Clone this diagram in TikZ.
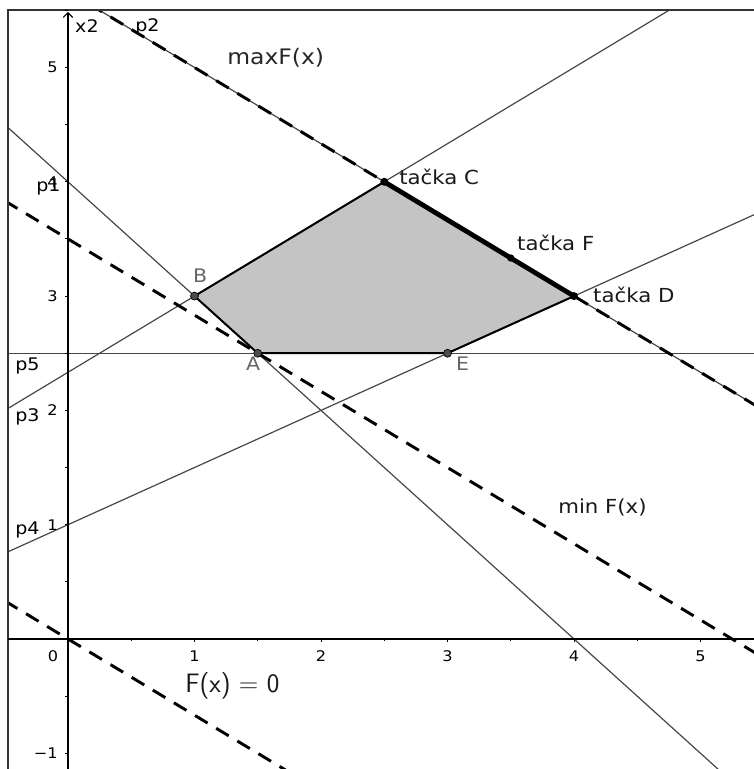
\documentclass[tikz,border=0pt]{standalone}
\usepackage{fontspec}
\setmainfont{DejaVu Sans}
\usetikzlibrary{arrows.meta}
\newcommand{\hstr}[1]{\scalebox{1.1}[1]{#1}}
\begin{document}
\begin{tikzpicture}[x=94.875pt,y=85.725pt,
  thinline/.style={draw=black!72, line width=0.9pt},
  objline/.style={draw=black, line width=2.2pt, dash pattern=on 11pt off 7.5pt},
  edgeln/.style={draw=black, line width=1.5pt},
  ptA/.style={circle, fill=black!70, draw=black, line width=0.5pt, inner sep=0pt, minimum size=6pt},
  ptC/.style={circle, fill=black, inner sep=0pt, minimum size=6pt},
  plabel/.style={font=\fontsize{13}{15}\selectfont, inner sep=0pt, anchor=base west},
  tlabel/.style={font=\fontsize{14.5}{17}\selectfont, inner sep=0pt, anchor=base west, text=black!90},
  vlabel/.style={font=\fontsize{14}{17}\selectfont, inner sep=0pt, anchor=base west, text=black!60},
  ticklab/.style={font=\fontsize{11}{13}\selectfont, inner sep=0pt},
  tickln/.style={draw=black, line width=0.7pt},
]
\useasboundingbox (-0.5375,-1.1374) rectangle (5.4229,5.5906);
\coordinate (A) at (1.5,2.5);
\coordinate (B) at (1,3);
\coordinate (C) at (2.5,4);
\coordinate (D) at (4,3);
\coordinate (E) at (3,2.5);
\coordinate (F) at (3.5,3.3333);
\begin{scope}
\clip (-0.4743,-1.1374) rectangle (5.4229,5.5031);
\fill[black!23] (A)--(B)--(C)--(D)--(E)--cycle;
% constraint lines
\draw[thinline] (-1,5) -- (6,-2);          % p1
\draw[thinline] (-1,6.3333) -- (7,1);      % p2
\draw[thinline] (-1,1.6667) -- (6,6.3333); % p3
\draw[thinline] (-1,0.5) -- (6,4);         % p4
\draw[thinline] (-1,2.5) -- (6,2.5);       % p5
% objective lines
\draw[objline] (-1,0.6667) -- (6,-4);
\draw[objline] (-1,4.1667) -- (7,-1.1667);
\draw[objline] (-1,6.3333) -- (7,1);
% polygon edges
\draw[edgeln] (D) -- (E) -- (A) -- (B) -- (C);
\draw[draw=black, line width=3.6pt] (C) -- (D);
\end{scope}
% frame
\draw[black!80, line width=1.2pt] (-0.4743,-1.1374) -- (-0.4743,5.5031) -- (5.4229,5.5031);
% axes
\draw[black, line width=0.8pt] (-0.4743,0) -- (5.4229,0);
\draw[black, line width=0.8pt, -{Straight Barb[length=3.5pt,width=7pt]}] (0,-1.1374) -- (0,5.4856);
% ticks
\foreach \k in {1,2,3,4,5} {
  \draw[tickln] (\k,0) -- (\k,-0.03);
  \draw[tickln] (\k-0.5,0) -- (\k-0.5,-0.02);
  \node[ticklab, anchor=base] at (\k,-0.201) {\hstr{\k}};
  \draw[tickln] (0,\k) -- (-0.027,\k);
  \draw[tickln] (0,\k-0.5) -- (-0.02,\k-0.5);
  \node[ticklab, anchor=east] at (-0.079,\k) {\hstr{\k}};
}
\draw[tickln] (0,5.5) -- (-0.02,5.5);
\draw[tickln] (5.5,0) -- (5.5,-0.02);
\draw[tickln] (0,-0.5) -- (-0.02,-0.5);
\draw[tickln] (0,-1) -- (-0.027,-1);
\node[ticklab, anchor=east] at (-0.079,-1) {\hstr{−1}};
\node[ticklab, anchor=base] at (-0.119,-0.201) {\hstr{0}};
% points
\node[ptA] (pA) at (A) {};
\node[ptA] (pB) at (B) {};
\node[ptA] (pE) at (E) {};
\node[ptC] (pC) at (C) {};
\node[ptC] (pD) at (D) {};
\node[ptC, minimum size=5.5pt] (pF) at (F) {};
% point labels
\node[vlabel] (lA) at (1.407,2.353) {\hstr{A}};
\node[vlabel] (lB) at (0.988,3.115) {\hstr{B}};
\node[vlabel] (lE) at (3.067,2.353) {\hstr{E}};
\node[tlabel] (lC) at (2.617,3.972) {\hstr{tačka C}};
\node[tlabel] (lF) at (3.549,3.403) {\hstr{tačka F}};
\node[tlabel] (lD) at (4.150,2.940) {\hstr{tačka D}};
% line labels
\node[plabel] (x2) at (0.055,5.302) {\hstr{x2}};
\node[plabel] (lp2) at (0.530,5.311) {\hstr{p2}};
\node[plabel] (lp1) at (-0.253,3.911) {\hstr{p1}};
\node[plabel] (lp5) at (-0.419,2.345) {\hstr{p5}};
\node[plabel] (lp3) at (-0.419,1.899) {\hstr{p3}};
\node[plabel] (lp4) at (-0.419,0.910) {\hstr{p4}};
% objective labels
\node[inner sep=0pt, anchor=base west, text=black!85, font=\fontsize{16}{19}\selectfont] (lmax) at (1.257,5.022) {\hstr{maxF(x)}};
\node[inner sep=0pt, anchor=base west, text=black!90, font=\fontsize{14.5}{17}\selectfont] (lmin) at (3.874,1.102) {\hstr{min F(x)}};
\node[inner sep=0pt, anchor=base west, text=black!90, font=\sffamily\fontsize{20}{24}\selectfont] (lzero) at (0.925,-0.472) {F(x) = 0};
\end{tikzpicture}
\end{document}
